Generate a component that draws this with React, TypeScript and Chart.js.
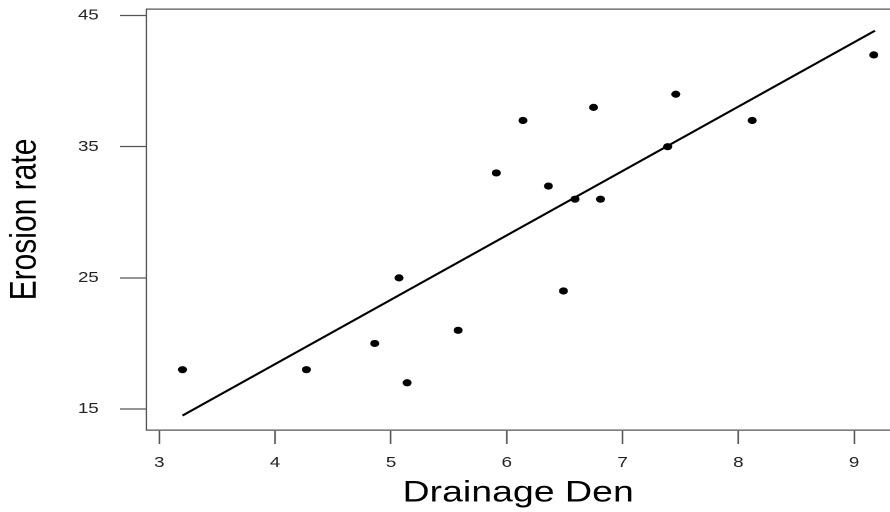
import React, { useEffect, useRef } from "react";
import { Chart, registerables } from "chart.js";

Chart.register(...registerables);

const drainageDen = [3.2, 4.27, 4.86, 5.07, 5.14, 5.58, 5.91, 6.14, 6.36, 6.49, 6.59, 6.75, 6.81, 7.39, 7.46, 8.12, 9.17];
const erosionRate = [18, 18, 20, 25, 17, 21, 33, 37, 32, 24, 31, 38, 31, 35, 39, 37, 42];
const fitX = [3.2, 9.18];
const fitY = [14.5, 43.85];
const xTicks = [3, 4, 5, 6, 7, 8, 9];
const yTicks = [15, 25, 35, 45];

const STRETCH = 1.25;
const W = 890 / STRETCH;
const H = 512;

const zeroPad = (s: any) => {
  s.paddingTop = 0;
  s.paddingBottom = 0;
  s.paddingLeft = 0;
  s.paddingRight = 0;
};

export default function App() {
  const ref = useRef<HTMLCanvasElement | null>(null);
  useEffect(() => {
    document.body.style.margin = "0";
    const canvas = ref.current!;
    const font = "'Liberation Sans', Arial, sans-serif";
    const chart = new Chart(canvas, {
      type: "scatter",
      data: {
        datasets: [
          {
            type: "line",
            data: fitX.map((x, i) => ({ x, y: fitY[i] })),
            borderColor: "#000",
            borderWidth: 2,
            pointRadius: 0,
            fill: false,
          },
          {
            data: drainageDen.map((x, i) => ({ x, y: erosionRate[i] })),
            backgroundColor: "#000",
            borderColor: "#000",
            borderWidth: 0,
            pointRadius: 3.6,
            pointHoverRadius: 3.6,
          },
        ],
      },
      options: {
        animation: false,
        responsive: false,
        devicePixelRatio: 2,
        layout: { autoPadding: false, padding: { left: 0, top: 0, bottom: 0, right: 0 } },
        plugins: { legend: { display: false }, tooltip: { enabled: false } },
        scales: {
          x: {
            type: "linear",
            position: "bottom",
            min: 2.887,
            max: 9.31,
            afterBuildTicks: (axis: any) => {
              axis.ticks = xTicks.map((v) => ({ value: v }));
            },
            afterFit: (s: any) => {
              s.height = 82;
              zeroPad(s);
            },
            grid: { drawOnChartArea: false, drawTicks: true, tickLength: 14, tickColor: "#555", tickWidth: 1.3 },
            border: { display: true, color: "#555", width: 1.3 },
            ticks: { color: "#222", padding: 10, font: { family: font, size: 15 } },
            title: {
              display: true,
              text: "Drainage Den",
              color: "#000",
              font: { family: font, size: 30 },
              padding: { top: 0, bottom: 1 },
            },
          },
          x2: {
            type: "linear",
            position: "top",
            min: 2.887,
            max: 9.31,
            afterFit: (s: any) => {
              s.height = 9;
              zeroPad(s);
            },
            grid: { display: false, drawTicks: false },
            border: { display: true, color: "#555", width: 1.3 },
            ticks: { display: false },
          },
          y: {
            type: "linear",
            min: 13.4,
            max: 45.5,
            afterBuildTicks: (axis: any) => {
              axis.ticks = yTicks.map((v) => ({ value: v }));
            },
            afterFit: (s: any) => {
              s.width = 146.25 / STRETCH;
              zeroPad(s);
            },
            grid: { drawOnChartArea: false, drawTicks: true, tickLength: 21, tickColor: "#555", tickWidth: 1.3 },
            border: { display: true, color: "#555", width: 1.1 },
            ticks: { color: "#222", padding: 17, font: { family: font, size: 15 } },
            title: {
              display: true,
              text: "Erosion rate",
              color: "#000",
              font: { family: font, size: 30 },
              padding: { top: 2, bottom: 0 },
            },
          },
        },
      },
    } as any);
    return () => chart.destroy();
  }, []);
  return (
    <div style={{ width: 890, height: 512, overflow: "hidden", background: "#fff", position: "relative" }}>
      <canvas
        ref={ref}
        width={W}
        height={H}
        style={{
          display: "block",
          width: W + "px",
          height: H + "px",
          transform: `scaleX(${STRETCH})`,
          transformOrigin: "0 0",
        }}
      />
    </div>
  );
}
